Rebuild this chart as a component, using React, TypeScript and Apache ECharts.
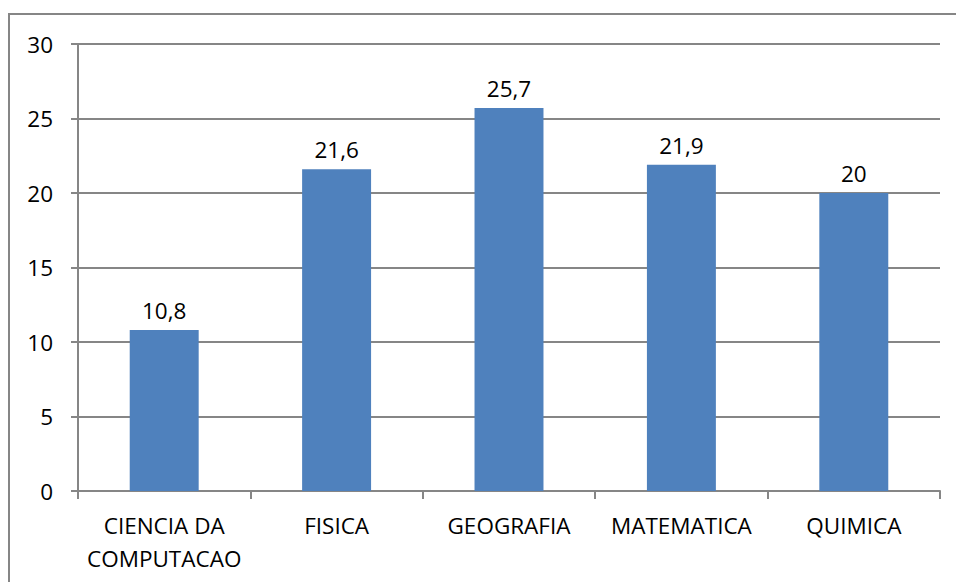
import React, { useEffect, useRef } from "react";
import * as echarts from "echarts";

const categories = ["CIENCIA DA\nCOMPUTACAO", "FISICA", "GEOGRAFIA", "MATEMATICA", "QUIMICA"];
const values = [10.8, 21.6, 25.7, 21.9, 20];
const yTicks = { min: 0, max: 30, interval: 5 };

const FONT = "'Open Sans', 'Liberation Sans', sans-serif";
const GRAY = "#868686";

export default function App() {
  const ref = useRef<HTMLDivElement>(null);
  useEffect(() => {
    if (!ref.current) return;
    const chart = echarts.init(ref.current, null, { renderer: "svg" });
    chart.setOption({
      animation: false,
      backgroundColor: "#ffffff",
      graphic: [
        {
          type: "rect",
          shape: { x: 9, y: 14, width: 1200, height: 1200 },
          style: { fill: "none", stroke: GRAY, lineWidth: 2 },
          silent: true,
        },
      ],
      grid: { left: 78, right: 16, top: 44, bottom: 91 },
      xAxis: {
        type: "category",
        data: categories,
        axisLine: { lineStyle: { color: GRAY, width: 2 } },
        axisTick: { show: true, length: 8, lineStyle: { color: GRAY, width: 2 } },
        axisLabel: {
          color: "#000",
          fontFamily: FONT,
          fontSize: 22.5,
          lineHeight: 33,
          margin: 18,
          interval: 0,
        },
      },
      yAxis: {
        type: "value",
        min: yTicks.min,
        max: yTicks.max,
        interval: yTicks.interval,
        axisLine: { show: true, lineStyle: { color: GRAY, width: 2 } },
        axisTick: { show: true, length: 7, lineStyle: { color: GRAY, width: 2 } },
        splitLine: { lineStyle: { color: GRAY, width: 2 } },
        axisLabel: { color: "#000", fontFamily: FONT, fontSize: 22.5, margin: 25 },
      },
      series: [
        {
          type: "bar",
          data: values,
          barWidth: "40%",
          itemStyle: { color: "#4F81BD" },
          label: {
            show: true,
            position: "top",
            distance: 8,
            color: "#000",
            fontFamily: FONT,
            fontSize: 22.5,
            formatter: (p: any) => String(p.value).replace(".", ","),
          },
        },
      ],
    });
    return () => chart.dispose();
  }, []);
  return (
    <div
      ref={ref}
      style={{ position: "absolute", left: 0, top: 0, width: 956, height: 582 }}
    />
  );
}
